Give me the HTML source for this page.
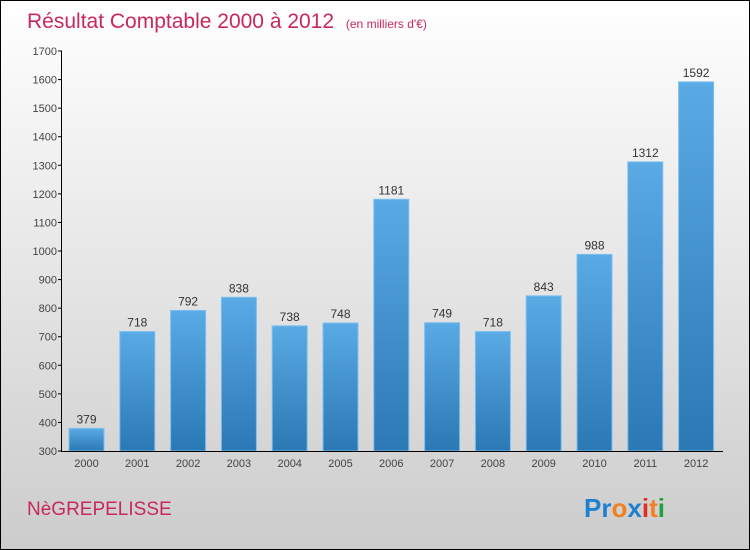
<!DOCTYPE html>
<html><head><meta charset="utf-8"><style>
body{margin:0}
#c{width:750px;height:550px;position:relative;box-sizing:border-box;border:1px solid #000;background:linear-gradient(#fff,#ccc);font-family:"Liberation Sans",sans-serif;overflow:hidden}
</style></head><body>
<div id="c">
<svg id="s" width="750" height="550" style="position:absolute;left:0;top:0">
<defs><linearGradient id="g" x1="0" y1="0" x2="0" y2="1"><stop offset="0" stop-color="#5aaae6"/><stop offset="1" stop-color="#2a78b4"/></linearGradient></defs>
<text x="26" y="27" font-size="21" fill="#c8285a">Résultat Comptable 2000 à 2012 <tspan font-size="12" dx="6">(en milliers d'€)</tspan></text>
<text x="26" y="514" font-size="19" fill="#c8285a">NèGREPELISSE</text>
<text x="583" y="516" font-size="26" font-weight="bold"><tspan fill="#2080d0">Pr</tspan><tspan fill="#f08020">o</tspan><tspan fill="#2080d0">x</tspan><tspan fill="#e03020">i</tspan><tspan fill="#f08020">t</tspan><tspan fill="#20a040">i</tspan></text>
<g id="plot"></g>
</svg>
</div>
<script>
const years=["2000","2001","2002","2003","2004","2005","2006","2007","2008","2009","2010","2011","2012"];
const values=[379,718,792,838,738,748,1181,749,718,843,988,1312,1592];
const yTicks=[300,400,500,600,700,800,900,1000,1100,1200,1300,1400,1500,1600,1700];
const NS="http://www.w3.org/2000/svg";
const p=document.getElementById('plot');
const y=v=>450-(v-300)*400/1400;
const x=i=>85.5+i*50.8;
function mk(t,a){const e=document.createElementNS(NS,t);for(const k in a)e.setAttribute(k,a[k]);p.appendChild(e);return e;}
yTicks.forEach(t=>{
 const l=mk('line',{x1:57,x2:61,y1:y(t),y2:y(t),stroke:'#000'});
 
 
 const tx=mk('text',{x:56,y:y(t)+4,'text-anchor':'end','font-size':11,fill:'#444'});
 tx.textContent=t;
 
 
});
values.forEach((v,i)=>{
 const r=mk('rect',{x:x(i)-17.5,y:y(v),width:35,height:450-y(v),fill:'url(#g)',stroke:'#7cc0f0','stroke-width':1});
 
 
 const t=mk('text',{x:x(i),y:y(v)-5,'text-anchor':'middle','font-size':12,fill:'#333'});
 t.textContent=v;
 
 
 const xl=mk('text',{x:x(i),y:466,'text-anchor':'middle','font-size':11,fill:'#444'});
 xl.textContent=years[i];
 
 
});
const ya=mk('line',{x1:60.5,x2:60.5,y1:50,y2:450,stroke:'#000'});


const xa=mk('line',{x1:60,x2:722,y1:450.5,y2:450.5,stroke:'#000'});


</script>
</body></html>
